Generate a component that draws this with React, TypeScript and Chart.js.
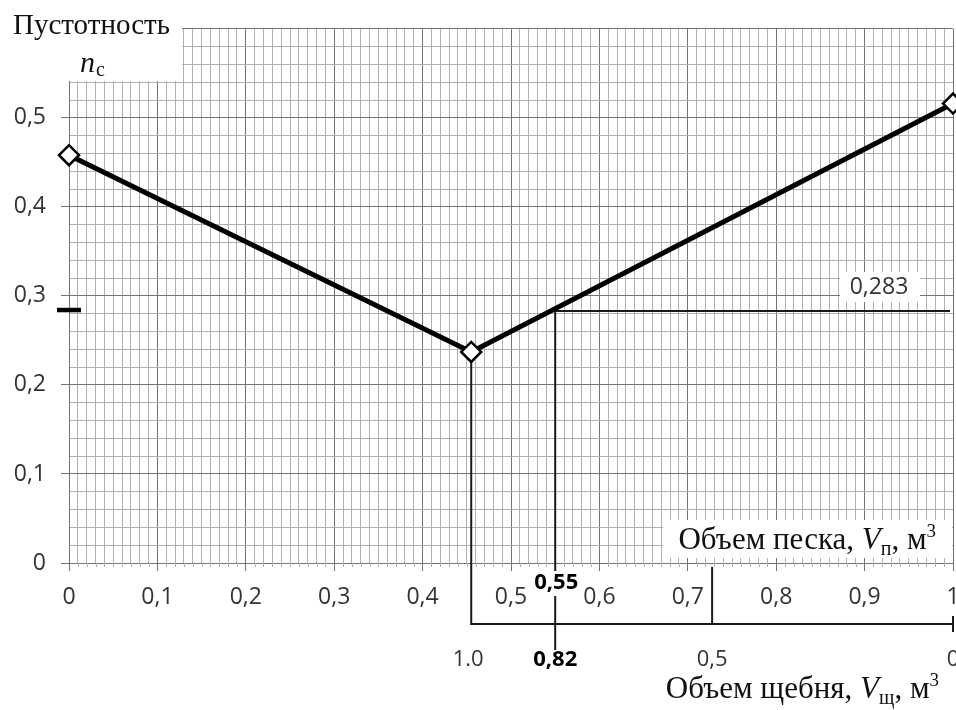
import React, { useEffect, useRef } from "react";
import { Chart, registerables } from "chart.js";

Chart.register(...registerables);

// ---- data ----
const sandVolume = [0, 0.455, 1.0];
const voidness = [0.458, 0.237, 0.516];
const optimumSand = 0.55;
const optimumVoid = 0.283;
const optimumGravel = 0.82;
const gravelTicks = [1.0, 0.82, 0.5, 0];
const gravelTickLabels = ["1.0", "0,82", "0,5", "0"];
const xTickLabels = ["0", "0,1", "0,2", "0,3", "0,4", "0,5", "0,6", "0,7", "0,8", "0,9", "1"];
const yTickLabels = ["0", "0,1", "0,2", "0,3", "0,4", "0,5", ""];
const yTitle = "Пустотность";
const sandTitle = "Объем песка, ";
const gravelTitle = "Объем щебня, ";

const SANS = "'Open Sans', sans-serif";
const SERIF = "'Liberation Serif', 'Times New Roman', serif";
const MAJOR = "#747474";
const MINOR = "#b0b0b0";

const isMajor = (v: number) => Math.round(v * 100) % 10 === 0;

function richText(ctx: CanvasRenderingContext2D, segs: [string, string, number][], rightX: number, baseY: number) {
  let w = 0;
  segs.forEach((s) => {
    ctx.font = s[1];
    w += ctx.measureText(s[0]).width;
  });
  let cx = rightX - w;
  ctx.textAlign = "left";
  ctx.textBaseline = "alphabetic";
  segs.forEach((s) => {
    ctx.font = s[1];
    ctx.fillText(s[0], cx, baseY + s[2]);
    cx += ctx.measureText(s[0]).width;
  });
}

const overlay = {
  id: "overlay",
  beforeDatasetsDraw(chart: any) {
    const { ctx, chartArea: ca, scales } = chart;
    const xs = scales.x;
    const ys = scales.y;
    const X = (v: number) => xs.getPixelForValue(v);
    const Y = (v: number) => ys.getPixelForValue(v);
    const line = (x1: number, y1: number, x2: number, y2: number) => {
      ctx.beginPath();
      ctx.moveTo(x1, y1);
      ctx.lineTo(x2, y2);
      ctx.stroke();
    };
    ctx.save();
    // minor x tick stubs below axis
    ctx.strokeStyle = MINOR;
    ctx.lineWidth = 1;
    xs.ticks.forEach((t: any) => {
      if (!isMajor(t.value)) {
        const px = Math.round(X(t.value)) + 0.5;
        line(px, ca.bottom, px, ca.bottom + 4);
      }
    });
    // white label boxes over the grid
    ctx.fillStyle = "#fff";
    ctx.fillRect(0, 0, 182, 81);
    ctx.fillRect(663, 520, 952 - 663, 558 - 520);
    ctx.fillRect(840, 272, 80, 30);

    // construction lines
    const minX = sandVolume[1];
    const minY = voidness[1];
    const gx = (g: number) => X(minX + (1 - g) * (1 - minX));
    const axisY = ca.bottom + 61;
    ctx.strokeStyle = "#1a1a1a";
    ctx.lineWidth = 2;
    line(X(minX), Y(minY), X(minX), axisY + 1);
    line(gx(1), axisY, gx(0), axisY);
    line(X(optimumSand), Y(optimumVoid), X(optimumSand), ca.bottom + 87);
    line(X(optimumSand), Y(optimumVoid), X(1) - 3, Y(optimumVoid));
    line(gx(0.5), ca.bottom + 4, gx(0.5), axisY);
    line(gx(0), axisY - 8, gx(0), axisY + 8);

    // dash on the y axis
    ctx.strokeStyle = "#000";
    ctx.lineWidth = 4.5;
    line(ca.left - 12, Y(optimumVoid) - 1, ca.left + 12, Y(optimumVoid) - 1);

    // 0,55 label with white box
    ctx.fillStyle = "#fff";
    ctx.fillRect(X(optimumSand) - 24, ca.bottom + 8, 50, 25);
    ctx.fillStyle = "#000";
    ctx.font = `bold 22px ${SANS}`;
    ctx.textAlign = "center";
    ctx.textBaseline = "middle";
    ctx.fillText("0,55", X(optimumSand) + 1, ca.bottom + 20);

    // lower (gravel) axis labels
    gravelTicks.forEach((g, i) => {
      const bold = g === optimumGravel;
      ctx.font = `${bold ? "bold " : ""}22px ${SANS}`;
      ctx.fillStyle = bold ? "#000" : "#333";
      const px = g === optimumGravel ? X(optimumSand) : gx(g);
      ctx.fillText(gravelTickLabels[i], px + (g === 1 ? -3 : 0), ca.bottom + 97);
    });

    // 0,283 label
    ctx.fillStyle = "#333";
    ctx.font = `23px ${SANS}`;
    ctx.fillText(String(optimumVoid).replace(".", ","), 879, Y(optimumVoid) - 24);

    // titles
    ctx.fillStyle = "#111";
    ctx.textAlign = "left";
    ctx.textBaseline = "alphabetic";
    ctx.font = `29px ${SERIF}`;
    ctx.fillText(yTitle, 13, 34);
    ctx.font = `italic 30px ${SERIF}`;
    ctx.fillText("n", 80, 72);
    const nw = ctx.measureText("n").width;
    ctx.font = `20px ${SERIF}`;
    ctx.fillText("с", 80 + nw + 1, 76);

    richText(
      ctx,
      [
        [sandTitle, `31px ${SERIF}`, 0],
        ["V", `italic 31px ${SERIF}`, 0],
        ["п", `20px ${SERIF}`, 6],
        [", м", `31px ${SERIF}`, 0],
        ["3", `19px ${SERIF}`, -12],
      ],
      936,
      549
    );
    richText(
      ctx,
      [
        [gravelTitle, `31px ${SERIF}`, 0],
        ["V", `italic 31px ${SERIF}`, 0],
        ["щ", `20px ${SERIF}`, 6],
        [", м", `31px ${SERIF}`, 0],
        ["3", `19px ${SERIF}`, -12],
      ],
      939,
      698
    );
    ctx.restore();
  },
};

export default function App() {
  const ref = useRef<HTMLCanvasElement | null>(null);
  useEffect(() => {
    if (!ref.current) return;
    const chart = new Chart(ref.current, {
      type: "line",
      data: {
        datasets: [
          {
            data: sandVolume.map((x, i) => ({ x, y: voidness[i] })),
            borderColor: "#000",
            borderWidth: 5,
            pointStyle: "rectRot",
            pointRadius: 10,
            pointBackgroundColor: "#fff",
            pointBorderColor: "#000",
            pointBorderWidth: 2.5,
            clip: false,
            tension: 0,
          } as any,
        ],
      },
      options: {
        responsive: false,
        animation: false,
        devicePixelRatio: 1,
        layout: { padding: { top: 28, left: 0, right: 47, bottom: 0 } },
        plugins: { legend: { display: false }, tooltip: { enabled: false } },
        scales: {
          x: {
            type: "linear",
            min: 0,
            max: 1,
            afterFit: (s: any) => {
              s.height = 147;
            },
            ticks: {
              stepSize: 0.01,
              maxTicksLimit: 200,
              autoSkip: false,
              maxRotation: 0,
              minRotation: 0,
              padding: 13,
              color: "#333",
              font: { family: SANS, size: 23 },
              callback: (v: any) => (isMajor(v) ? xTickLabels[Math.round(v * 10)] : ""),
            },
            grid: {
              color: (c: any) => (c.tick && isMajor(c.tick.value) ? MAJOR : MINOR),
              lineWidth: 1,
              tickLength: 8,
              tickColor: (c: any) => (c.tick && isMajor(c.tick.value) ? MAJOR : "rgba(0,0,0,0)"),
            },
            border: { color: MAJOR, width: 1 },
          },
          y: {
            type: "linear",
            min: 0,
            max: 0.6,
            afterFit: (s: any) => {
              s.width = 69;
            },
            ticks: {
              stepSize: 0.02,
              maxTicksLimit: 200,
              autoSkip: false,
              padding: 15,
              color: "#333",
              font: { family: SANS, size: 23 },
              callback: (v: any) => (isMajor(v) ? yTickLabels[Math.round(v * 10)] : ""),
            },
            grid: {
              color: (c: any) => (c.tick && isMajor(c.tick.value) ? MAJOR : MINOR),
              lineWidth: 1,
              tickLength: 8,
              tickColor: (c: any) => (c.tick && isMajor(c.tick.value) ? MAJOR : "rgba(0,0,0,0)"),
            },
            border: { color: MAJOR, width: 1 },
          },
        },
      },
      plugins: [overlay],
    });
    return () => chart.destroy();
  }, []);
  return (
    <div
      style={{
        position: "absolute",
        left: 0,
        top: 0,
        width: 956,
        height: 710,
        overflow: "hidden",
        background: "#fff",
      }}
    >
      <canvas ref={ref} width={1000} height={710} style={{ display: "block", width: 1000, height: 710 }} />
    </div>
  );
}
